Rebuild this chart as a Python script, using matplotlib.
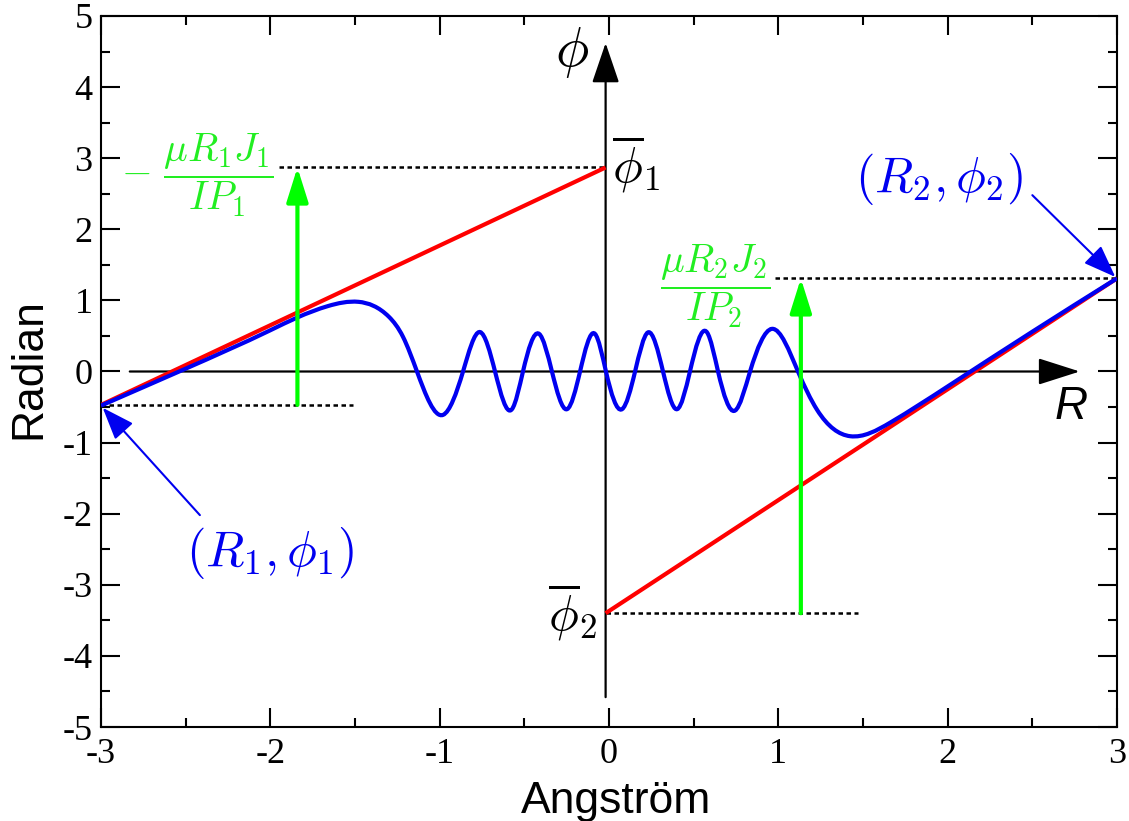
import numpy as np
import matplotlib
matplotlib.use("Agg")
import matplotlib.pyplot as plt
from matplotlib.path import Path
from matplotlib.patches import PathPatch
from matplotlib.ticker import MultipleLocator

plt.rcParams['mathtext.fontset'] = 'cm'
plt.rcParams['axes.unicode_minus'] = False

# Straight phase lines (red)
line1_x = [-3.00, -0.02]
line1_y = [-0.47, 2.87]
line2_x = [-0.02, 3.00]
line2_y = [-3.40, 1.31]

# Phase curve (blue): knots read at extrema, zero crossings and along the ramps
phase_R = [-3.00, -2.50, -2.00, -1.84, -1.66, -1.48, -1.30, -1.217, -1.134,
           -0.980, -0.862, -0.762, -0.673, -0.573, -0.508, -0.413, -0.337,
           -0.248, -0.171, -0.083, -0.018, 0.077, 0.154, 0.230, 0.319,
           0.402, 0.478, 0.579, 0.644, 0.744, 0.833, 0.963, 1.116, 1.229,
           1.424, 1.660, 2.000, 2.500, 3.000]
phase_phi = [-0.48, 0.04, 0.58, 0.76, 0.92, 0.98, 0.77, 0.49, 0.00,
             -0.61, 0.00, 0.555, 0.00, -0.53, 0.00, 0.53, 0.00,
             -0.53, 0.00, 0.53, 0.00, -0.53, 0.00, 0.55, 0.00,
             -0.53, 0.00, 0.55, 0.00, -0.55, 0.00, 0.60, 0.00, -0.54,
             -0.91, -0.72, -0.21, 0.56, 1.31]

# Green offsets
offset_x = [-1.84, 1.133]
offset_base = [-0.47, -3.40]
offset_tip = [2.87, 1.31]

# Dotted guide lines: (x_start, x_end, y)
guide_x0 = [-1.95, -3.00, 0.98, -0.02]
guide_x1 = [-0.02, -1.51, 3.00, 1.47]
guide_y = [2.87, -0.47, 1.31, -3.40]

x_ticks = [-3, -2, -1, 0, 1, 2, 3]
y_ticks = [-5, -4, -3, -2, -1, 0, 1, 2, 3, 4, 5]

RED = '#ff0000'
BLUE = '#0000f0'
GREEN = '#00ff00'
GREEN_TXT = '#22ee22'


def spline_path(xs, ys):
    """Natural cubic spline through the knots, written as exact Bezier segments."""
    x = np.asarray(xs, float)
    y = np.asarray(ys, float)
    n = len(x)
    h = np.diff(x)
    A = np.zeros((n, n))
    b = np.zeros(n)
    A[0, 0] = A[-1, -1] = 1.0
    for i in range(1, n - 1):
        A[i, i - 1] = h[i - 1]
        A[i, i] = 2 * (h[i - 1] + h[i])
        A[i, i + 1] = h[i]
        b[i] = 6 * ((y[i + 1] - y[i]) / h[i] - (y[i] - y[i - 1]) / h[i - 1])
    M = np.linalg.solve(A, b)
    d = np.zeros(n)
    for i in range(n - 1):
        d[i] = (y[i + 1] - y[i]) / h[i] - h[i] * (2 * M[i] + M[i + 1]) / 6
    d[-1] = (y[-1] - y[-2]) / h[-1] + h[-1] * (M[-2] + 2 * M[-1]) / 6
    verts = [(x[0], y[0])]
    codes = [Path.MOVETO]
    for i in range(n - 1):
        hi = h[i]
        verts += [(x[i] + hi / 3, y[i] + d[i] * hi / 3),
                  (x[i + 1] - hi / 3, y[i + 1] - d[i + 1] * hi / 3),
                  (x[i + 1], y[i + 1])]
        codes += [Path.CURVE4] * 3
    return Path(verts, codes)


fig = plt.figure(figsize=(11.29, 8.21), dpi=100)
ax = fig.add_axes([101 / 1129, 1 - 727 / 821, 1016 / 1129, 711 / 821])
ax.set_xlim(-3, 3)
ax.set_ylim(-5, 5)

for s in ax.spines.values():
    s.set_linewidth(1.5)

ax.set_xticks(x_ticks)
ax.set_yticks(y_ticks)
ax.set_xticklabels([str(v) for v in x_ticks])
ax.set_yticklabels([str(v) for v in y_ticks])
ax.xaxis.set_minor_locator(MultipleLocator(0.5))
ax.yaxis.set_minor_locator(MultipleLocator(0.5))
ax.tick_params(which='both', direction='in', top=True, right=True, width=1.5)
ax.tick_params(which='major', length=13.7)
ax.tick_params(which='minor', length=6.5)
ax.tick_params(axis='x', pad=8)
ax.tick_params(axis='y', pad=6)
for lab in ax.get_xticklabels() + ax.get_yticklabels():
    lab.set_fontfamily('Liberation Serif')
    lab.set_fontsize(26)

# Coordinate arrows
ax.annotate('', xy=(2.78, 0.0), xytext=(-2.83, 0.0),
            arrowprops=dict(arrowstyle='-|>,head_length=2.6,head_width=0.83',
                            mutation_scale=10, lw=1.6, color='black',
                            shrinkA=0, shrinkB=0))
ax.annotate('', xy=(-0.02, 4.62), xytext=(-0.02, -4.58),
            arrowprops=dict(arrowstyle='-|>,head_length=2.5,head_width=0.85',
                            mutation_scale=10, lw=1.6, color='black',
                            shrinkA=0, shrinkB=0))

# Dotted guides
for x0, x1, yv in zip(guide_x0, guide_x1, guide_y):
    ax.plot([x0, x1], [yv, yv], color='black', lw=1.8,
            linestyle=(0, (1.8, 1.4)), zorder=2)

# Red lines
ax.plot(line1_x, line1_y, color=RED, lw=3, solid_capstyle='butt', zorder=3)
ax.plot(line2_x, line2_y, color=RED, lw=3, solid_capstyle='butt', zorder=3)

# Blue phase curve
ax.add_patch(PathPatch(spline_path(phase_R, phase_phi), fill=False,
                       edgecolor=BLUE, lw=3, zorder=4))

# Green offset arrows
for xv, yb, yt in zip(offset_x, offset_base, offset_tip):
    ax.annotate('', xy=(xv, yt), xytext=(xv, yb),
                arrowprops=dict(arrowstyle='-|>,head_length=2.1,head_width=0.66',
                                mutation_scale=10, lw=3, color=GREEN,
                                shrinkA=0, shrinkB=0), zorder=5)

# Blue pointer arrows
ax.annotate('', xy=(2.99, 1.33), xytext=(2.50, 2.48),
            arrowprops=dict(arrowstyle='-|>,head_length=2.0,head_width=0.75',
                            mutation_scale=10, lw=1.5, color=BLUE,
                            shrinkA=0, shrinkB=0), annotation_clip=False)
ax.annotate('', xy=(-2.99, -0.51), xytext=(-2.416, -2.02),
            arrowprops=dict(arrowstyle='-|>,head_length=2.0,head_width=0.75',
                            mutation_scale=10, lw=1.5, color=BLUE,
                            shrinkA=0, shrinkB=0), annotation_clip=False)

# Labels
ax.text(-0.219, 4.48, r'$\phi$', fontsize=40, ha='center', va='center')
ax.text(2.729, -0.50, 'R', fontsize=33, fontstyle='italic',
        fontfamily='Liberation Sans', ha='center', va='center')
ax.text(0.02, 2.92, r'$\overline{\phi}_1$', fontsize=36, ha='left', va='center')
ax.text(-0.065, -3.37, r'$\overline{\phi}_2$', fontsize=36, ha='right', va='center')
ax.text(1.949, 2.707, r'$(R_2,\phi_2)$', fontsize=36, color=BLUE,
        ha='center', va='center')
ax.text(-2.002, -2.552, r'$(R_1,\phi_1)$', fontsize=36, color=BLUE,
        ha='center', va='center')
ax.text(-2.43, 2.76, r'$-\ \dfrac{\mu R_1 J_1}{IP_1}$', fontsize=28.5,
        color=GREEN_TXT, ha='center', va='center')
ax.text(0.626, 1.20, r'$\dfrac{\mu R_2 J_2}{IP_2}$', fontsize=28.5,
        color=GREEN_TXT, ha='center', va='center')

fig.text(616 / 1129, 1 - 813 / 821, 'Angström', fontsize=32,
         fontfamily='Liberation Sans', ha='center', va='baseline')
fig.text(29 / 1129, 1 - 369 / 821, 'Radian', fontsize=32,
         fontfamily='Liberation Sans', rotation=90, ha='center', va='center')

fig.savefig('out.png', dpi=100)
